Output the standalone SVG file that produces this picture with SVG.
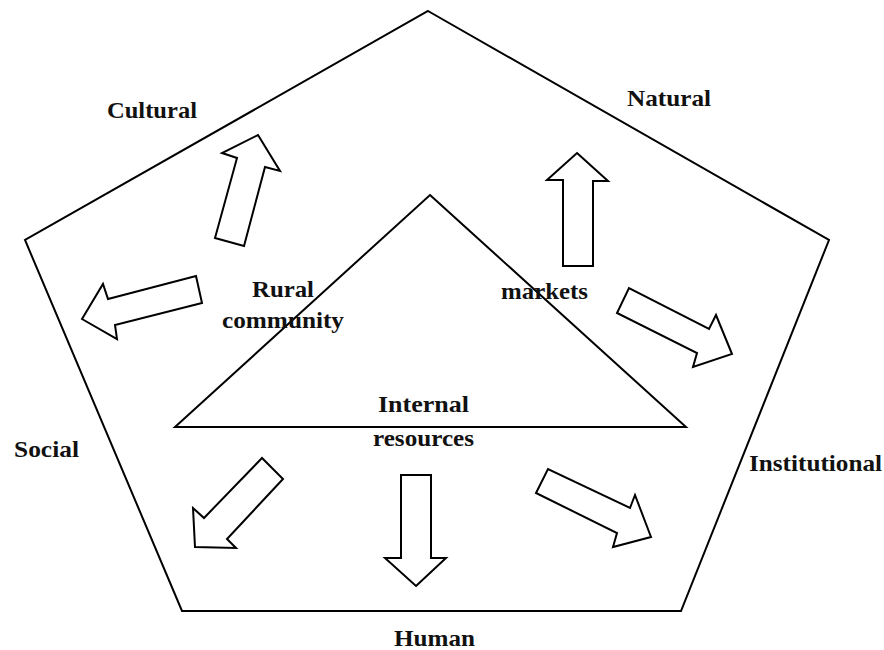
<svg xmlns="http://www.w3.org/2000/svg" width="884" height="650" viewBox="0 0 884 650">
<style>
.shape{fill:#fff;stroke:#000;stroke-width:2;stroke-linejoin:miter}
.arrow{fill:#fff;stroke:#000;stroke-width:2;stroke-linejoin:miter}
.lbl{font-family:"Liberation Serif","Times New Roman",serif;font-weight:bold;font-size:24px;fill:#111}
</style>
<rect width="884" height="650" fill="#fff"/>
<g id="pentagon"><polygon class="shape" points="428,11 829,240 681,611 182,611 25,240"/></g>
<g id="triangle"><polygon class="shape" points="430,195 686,427 175,427"/></g>
<g id="connectors">
<polygon class="arrow" points="258,135 280,171 265,167 244,246 215,238 237,158 222,153"/>
<polygon class="arrow" points="82,319 103,284 108,299 196,276 202,303 115,325 117,339"/>
<polygon class="arrow" points="577,153 608,181 593,181 593,266 563,266 563,180 547,180"/>
<polygon class="arrow" points="732,354 716,315 709,329 629,288 617,313 697,353 693,367"/>
<polygon class="arrow" points="195,547 193,508 204,518 262,458 283,479 227,539 236,548"/>
<polygon class="arrow" points="416,586 446,558 431,558 431,475 401,475 401,558 385,558"/>
<polygon class="arrow" points="651,537 635,495 630,508 548,469 536,493 617,533 613,547"/>
</g>
<g id="cultural"><text class="lbl" x="107" y="118" textLength="90" lengthAdjust="spacingAndGlyphs">Cultural</text></g>
<g id="natural"><text class="lbl" x="627" y="106" textLength="84" lengthAdjust="spacingAndGlyphs">Natural</text></g>
<g id="rural-community"><text class="lbl" x="252" y="297" textLength="62" lengthAdjust="spacingAndGlyphs">Rural</text><text class="lbl" x="222" y="328" textLength="122" lengthAdjust="spacingAndGlyphs">community</text></g>
<g id="markets"><text class="lbl" x="501" y="299" textLength="87" lengthAdjust="spacingAndGlyphs">markets</text></g>
<g id="internal-resources"><text class="lbl" x="378" y="412" textLength="91" lengthAdjust="spacingAndGlyphs">Internal</text><text class="lbl" x="373" y="446" textLength="101" lengthAdjust="spacingAndGlyphs">resources</text></g>
<g id="social"><text class="lbl" x="14" y="457" textLength="65" lengthAdjust="spacingAndGlyphs">Social</text></g>
<g id="institutional"><text class="lbl" x="749" y="471" textLength="133" lengthAdjust="spacingAndGlyphs">Institutional</text></g>
<g id="human"><text class="lbl" x="394" y="646" textLength="81" lengthAdjust="spacingAndGlyphs">Human</text></g>
</svg>
